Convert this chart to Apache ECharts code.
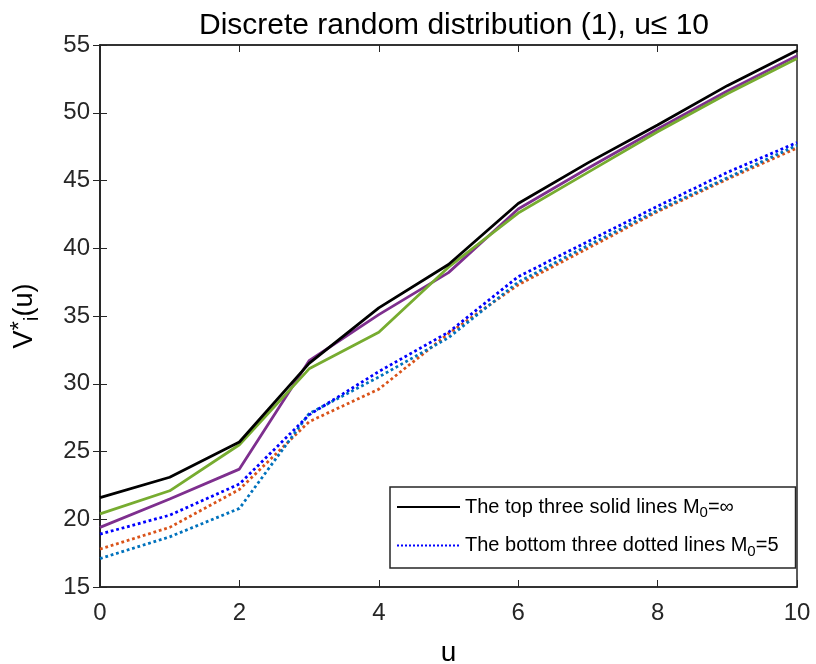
<!DOCTYPE html>
<html>
<head>
  <meta charset="utf-8">
  <script src="https://cdn.jsdelivr.net/npm/echarts@6/dist/echarts.min.js"></script>
</head>
<body style="margin:0">
  <div id="main" style="width: 816px;height:664px;"></div>
  <script type="text/javascript">
    var uValues = [0, 1, 2, 3, 4, 5, 6, 7, 8, 9, 10];
    // top three solid lines (M0 = inf)
    var blackLine = [21.6, 23.1, 25.7, 31.5, 35.6, 38.8, 43.3, 46.3, 49.1, 52.0, 54.6];
    var greenLine = [20.4, 22.1, 25.5, 31.1, 33.8, 38.6, 42.6, 45.6, 48.6, 51.4, 54.0];
    var purpleLine = [19.4, 21.5, 23.7, 31.7, 35.1, 38.2, 42.9, 45.9, 48.8, 51.6, 54.2];
    // bottom three dotted lines (M0 = 5)
    var blueLine = [18.9, 20.3, 22.6, 27.7, 30.9, 33.8, 37.9, 40.5, 43.1, 45.6, 47.8];
    var orangeLine = [17.8, 19.4, 22.2, 27.2, 29.6, 33.7, 37.3, 40.0, 42.7, 45.1, 47.4];
    var lightBlueLine = [17.1, 18.7, 20.8, 27.8, 30.5, 33.4, 37.5, 40.2, 42.8, 45.2, 47.6];
    var xTicks = [0, 2, 4, 6, 8, 10];
    var yTicks = [15, 20, 25, 30, 35, 40, 45, 50, 55];

    var legendTop = "The top three solid lines M0=∞";
    var legendBottom = "The bottom three dotted lines M0=5";

    function pairs(ys) {
      return uValues.map(function (u, i) { return [u, ys[i]]; });
    }

    function lineSeries(name, ys, color, type, z) {
      return {
        name: name,
        type: 'line',
        data: pairs(ys),
        symbol: 'none',
        z: z,
        lineStyle: { color: color, width: 2.8, type: type },
        itemStyle: { color: color }
      };
    }

    var chart = echarts.init(document.getElementById("main"));
    var font = "'Liberation Sans', Arial, sans-serif";
    var axisCol = '#262626';

    var option = {
      animation: false,
      backgroundColor: '#fff',
      title: {
        text: 'Discrete random distribution (1), u≤ 10',
        left: 449, top: 6, textAlign: 'center',
        textStyle: { fontFamily: font, fontSize: 30, fontWeight: 'normal', color: '#000' }
      },
      grid: {
        left: 100, right: 19, top: 45, bottom: 77,
        outerBoundsMode: 'none',
        containLabel: false,
        show: true, borderColor: axisCol, borderWidth: 1.5, backgroundColor: '#fff'
      },
      legend: {
        data: [legendTop, legendBottom],
        orient: 'vertical',
        left: 390, top: 487,
        padding: [10, 17, 9, 6],
        itemGap: 15,
        itemWidth: 63,
        itemHeight: 20,
        borderColor: axisCol,
        borderWidth: 1.5,
        backgroundColor: '#fff',
        itemStyle: { opacity: 0 },
        formatter: function (name) {
          return name.replace('M0', 'M{sub|0}');
        },
        textStyle: {
          fontFamily: font, fontSize: 20, color: '#000',
          rich: {
            sub: { fontFamily: font, fontSize: 15, color: '#000', verticalAlign: 'bottom', padding: [12, 0, 0, 0] }
          }
        }
      },
      xAxis: [{
        type: 'value', min: 0, max: 10, interval: 2,
        name: 'u', nameLocation: 'middle', nameGap: 52,
        nameTextStyle: { fontFamily: font, fontSize: 28, color: '#000' },
        axisLine: { lineStyle: { color: axisCol, width: 1.5 } },
        axisTick: { inside: true, length: 7, lineStyle: { color: axisCol } },
        axisLabel: { fontFamily: font, fontSize: 24, color: '#262626', margin: 14,
          formatter: function (v) { return xTicks.indexOf(v) >= 0 ? v : ''; } },
        splitLine: { show: false }
      }, {
        type: 'value', min: 0, max: 10, interval: 2, position: 'top',
        axisLine: { lineStyle: { color: axisCol, width: 1.5 } },
        axisTick: { inside: true, length: 7, lineStyle: { color: axisCol } },
        axisLabel: { show: false },
        splitLine: { show: false }
      }],
      yAxis: [{
        type: 'value', min: 15, max: 55, interval: 5,
        name: 'V{sup|*}{sub|i}(u)', nameLocation: 'middle', nameGap: 58, nameRotate: 90,
        nameTextStyle: {
          fontFamily: font, fontSize: 27, color: '#000',
          rich: {
            sup: { fontFamily: font, fontSize: 24, color: '#000', verticalAlign: 'top', padding: [0, 0, 10, 0] },
            sub: { fontFamily: font, fontSize: 20, color: '#000', verticalAlign: 'bottom', padding: [12, 0, 0, 0] }
          }
        },
        axisLine: { show: true, lineStyle: { color: axisCol, width: 1.5 } },
        axisTick: { inside: true, length: 7, lineStyle: { color: axisCol } },
        axisLabel: { fontFamily: font, fontSize: 24, color: '#262626', margin: 10,
          formatter: function (v) { return yTicks.indexOf(v) >= 0 ? v : ''; } },
        splitLine: { show: false }
      }, {
        type: 'value', min: 15, max: 55, interval: 5, position: 'right',
        axisLine: { show: true, lineStyle: { color: axisCol, width: 1.5 } },
        axisTick: { inside: true, length: 7, lineStyle: { color: axisCol } },
        axisLabel: { show: false },
        splitLine: { show: false }
      }],
      series: [
        lineSeries('orange', orangeLine, '#D95319', 'dotted', 2),
        lineSeries('lightblue', lightBlueLine, '#0072BD', 'dotted', 2),
        lineSeries(legendBottom, blueLine, '#0000FF', 'dotted', 3),
        lineSeries('purple', purpleLine, '#7E2F8E', 'solid', 4),
        lineSeries('green', greenLine, '#77AC30', 'solid', 4),
        lineSeries(legendTop, blackLine, '#000000', 'solid', 5)
      ]
    };
    chart.setOption(option);
  </script>
</body>
</html>
